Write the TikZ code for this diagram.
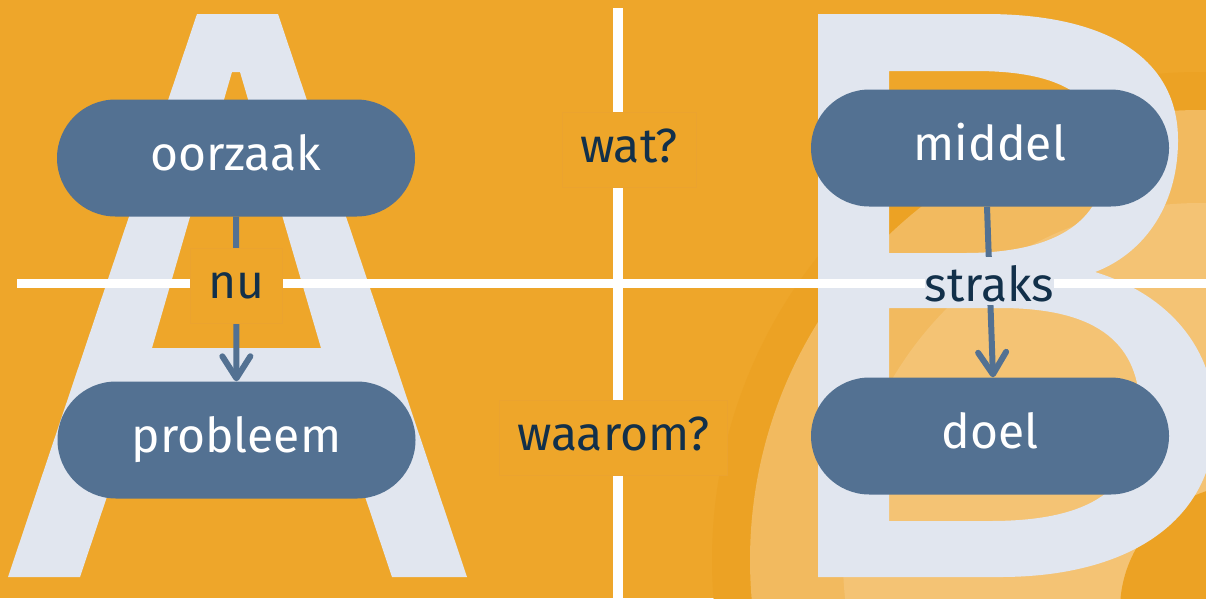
\documentclass[tikz,border=0pt]{standalone}
\usepackage{fontspec}
\setmainfont{Fira Sans}
\usetikzlibrary{arrows.meta,shapes.misc,calc}
\definecolor{bg}{HTML}{EEA62A}
\definecolor{ringc}{HTML}{ECA224}
\definecolor{lightc}{HTML}{F2BA5F}
\definecolor{lighterc}{HTML}{F4C374}
\definecolor{letterc}{HTML}{E1E6EF}
\definecolor{pillc}{HTML}{537192}
\definecolor{navy}{HTML}{12304A}
\definecolor{lblborder}{HTML}{EBA32F}
\newcommand\diagfont{\fontsize{48}{58}\selectfont}
\begin{document}
\begin{tikzpicture}[x=1pt,y=-1pt,
  letter/.style={fill=letterc, even odd rule},
  pill/.style={rounded rectangle, fill=pillc, text=white, minimum width=358pt,
    minimum height=117pt, font=\diagfont, text height=25pt, text depth=0pt, inner sep=0pt},
  lbl/.style={fill=bg, draw=lblborder, line width=0.8pt, text=navy, font=\diagfont,
    inner xsep=18pt, inner ysep=0pt, minimum height=75pt, text height=25pt, text depth=0pt},
  graylbl/.style={fill=letterc, text=navy, font=\diagfont, inner xsep=0pt, inner ysep=0pt,
    minimum height=48pt, text height=45pt, text depth=3pt},
  conn/.style={draw=pillc, line width=6pt, -{Straight Barb[round,length=22pt,width=28pt]}},
  whiteline/.style={draw=white, line width=9.5pt}]
\useasboundingbox (0,0) rectangle (1206,598);
\clip (0,0) rectangle (1206,598);
\fill[bg] (0,0) rectangle (1206,598);
% background decoration
\fill[ringc] (1200,560) circle[radius=488pt];
\fill[lightc] (1200,560) circle[radius=450pt];
\fill[lighterc] (1200,560) circle[radius=357pt];
\fill[ringc] (1245,610) circle[radius=125pt];
% letter A
\fill[letter] (197,14) -- (278,14) -- (467,577) -- (392,577) -- (346,440) -- (126,440)
  -- (80,577) -- (8,577) -- cycle
  (232,72) -- (240,72) -- (321,348) -- (152,348) -- cycle;
% letter B
\fill[letter] (818,14) -- (985,14) .. controls (1110,14) and (1178,60) .. (1178,140)
  .. controls (1178,210) and (1140,255) .. (1095,272)
  .. controls (1170,295) and (1215,350) .. (1215,420)
  .. controls (1215,520) and (1130,577) .. (1000,577) -- (818,577) -- cycle
  (889,71) -- (975,71) .. controls (1075,71) and (1105,105) .. (1105,160)
  .. controls (1105,225) and (1050,253) .. (965,253) -- (889,253) -- cycle
  (889,308) -- (1000,308) .. controls (1100,308) and (1140,345) .. (1140,412)
  .. controls (1140,490) and (1090,521) .. (990,521) -- (889,521) -- cycle;
% cross lines
\coordinate (vtop) at (618,8);
\coordinate (vbot) at (618,598);
\coordinate (hleft) at (17,283.5);
\coordinate (hright) at (1206,283.5);
\draw[whiteline] (vtop) -- (vbot);
\draw[whiteline] (hleft) -- (hright);
% pills
\node[pill] (oorzaak) at (236,158) {oorzaak};
\node[pill] (probleem) at (236.5,440) {probleem};
\node[pill] (middel) at (990,148) {middel};
\node[pill] (doel) at (990,436) {doel};
% connectors
\draw[conn] (oorzaak) -- node[lbl, pos=0.42] (nu) {nu} (probleem);
\draw[conn] ($(middel.south)+(-3,0)$) -- node[graylbl, pos=0.435] (straks) {straks} ($(doel.north)+(3,0)$);
% question labels
\node[lbl] (wat) at (629,150) {wat?};
\node[lbl] (waarom) at (613.5,437.5) {waarom?};
\end{tikzpicture}
\end{document}
